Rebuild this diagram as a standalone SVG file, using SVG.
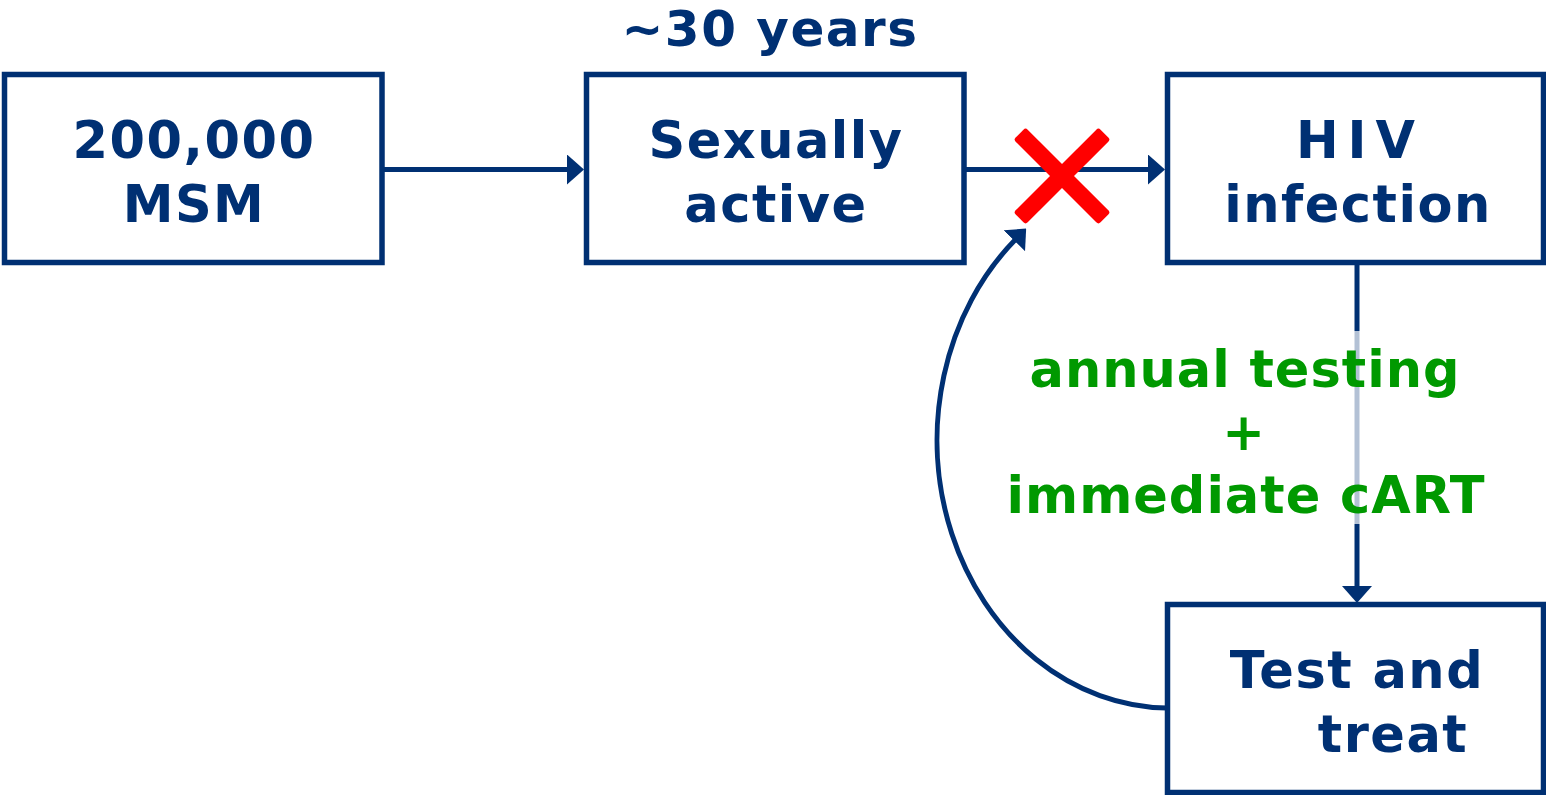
<svg xmlns="http://www.w3.org/2000/svg" width="1546" height="795" viewBox="0 0 1546 795">
<style>
.box{fill:#fff;stroke:#003073;stroke-width:5.5}
.lbl{font-family:"DejaVu Sans","Verdana",sans-serif;font-weight:bold;font-size:51px;fill:#003073;letter-spacing:1.5px}
.grn{font-family:"DejaVu Sans","Verdana",sans-serif;font-weight:bold;font-size:51px;fill:#009900;letter-spacing:1px}
.con{fill:none;stroke:#003073;stroke-width:5}
</style>
<defs>
<marker id="ah" markerUnits="userSpaceOnUse" markerWidth="17" markerHeight="30" refX="1" refY="15" orient="auto" viewBox="0 0 17 30">
<path d="M0,0 L17,15 L0,30 Z" fill="#003073"/>
</marker>
</defs>
<rect width="1546" height="795" fill="#fff"/>
<text class="lbl" x="770" y="46" text-anchor="middle" style="font-size:50px">~30 years</text>
<g id="connectors">
<line class="con" x1="383" y1="169.5" x2="568" y2="169.5" marker-end="url(#ah)"/>
<line class="con" x1="965" y1="169.5" x2="1149" y2="169.5" marker-end="url(#ah)"/>
<line class="con" x1="1357" y1="265" x2="1357" y2="587" marker-end="url(#ah)"/>
<path class="con" d="M1167,708 A233,268 0 0 1 1015,240" marker-end="url(#ah)"/>
</g>
<g id="node-msm">
<rect class="box" x="4.5" y="74.5" width="377.5" height="188"/>
<text class="lbl" x="194" y="158" text-anchor="middle">200,000</text>
<text class="lbl" x="194" y="222" text-anchor="middle">MSM</text>
</g>
<g id="node-active">
<rect class="box" x="586.5" y="74.5" width="377.5" height="188"/>
<text class="lbl" x="776" y="158" text-anchor="middle">Sexually</text>
<text class="lbl" x="776" y="222" text-anchor="middle">active</text>
</g>
<g id="node-hiv">
<rect class="box" x="1167.5" y="74.5" width="376" height="188"/>
<text class="lbl" x="1360" y="158" text-anchor="middle" style="letter-spacing:9px">HIV</text>
<text class="lbl" x="1358" y="222" text-anchor="middle">infection</text>
</g>
<g id="node-test">
<rect class="box" x="1167.5" y="604.5" width="376" height="188"/>
<text class="lbl" x="1357" y="688" text-anchor="middle">Test and</text>
<text class="lbl" x="1393" y="752" text-anchor="middle">treat</text>
</g>
<g id="block-x">
<rect x="1002" y="167.5" width="120" height="17" rx="3" fill="#ff0000" transform="rotate(45 1062 176)"/>
<rect x="1002" y="167.5" width="120" height="17" rx="3" fill="#ff0000" transform="rotate(-45 1062 176)"/>
</g>
<g id="label-intervention">
<rect x="1000" y="331" width="500" height="193" fill="#fff" fill-opacity="0.7"/>
<text class="grn" x="1245" y="387" text-anchor="middle">annual testing</text>
<text class="grn" x="1244" y="450" text-anchor="middle">+</text>
<text class="grn" x="1246" y="513" text-anchor="middle">immediate cART</text>
</g>
</svg>
